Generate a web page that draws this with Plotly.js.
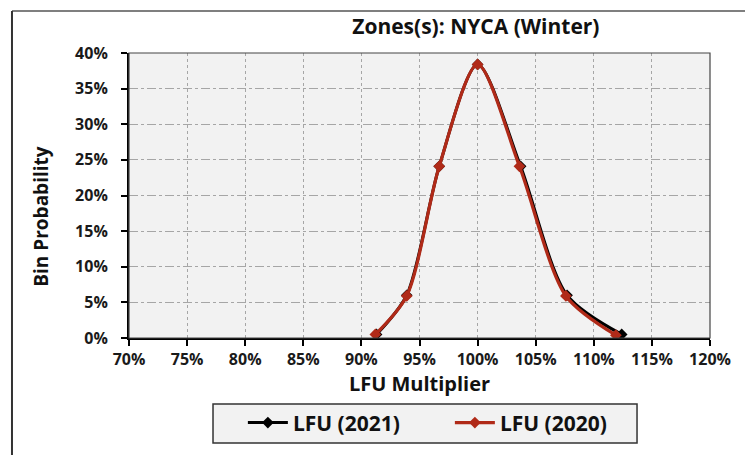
<!DOCTYPE html>
<html>
<head>
<meta charset="utf-8">
<script src="https://cdn.plot.ly/plotly-3.0.1.min.js"></script>
<style>html,body{margin:0;padding:0;background:#fff}#chart{width:745px;height:455px}</style>
</head>
<body>
<div id="chart"></div>
<script>
// LFU multiplier (x) and bin probability (y)
var x2021 = [0.913, 0.939, 0.967, 1.000, 1.037, 1.077, 1.124];
var y2021 = [0.005, 0.060, 0.241, 0.384, 0.241, 0.060, 0.005];
var x2020 = [0.912, 0.939, 0.967, 1.000, 1.036, 1.076, 1.119];
var y2020 = [0.005, 0.059, 0.241, 0.384, 0.241, 0.059, 0.004];
var seriesNames = ["LFU (2021)", "LFU (2020)"];
var chartTitle = "Zones(s): NYCA (Winter)";
var xTitle = "LFU Multiplier";
var yTitle = "Bin Probability";

var FONT = "'Open Sans', 'Noto Sans', sans-serif";

var traces = [
  {x: x2021, y: y2021, name: seriesNames[0], type: "scatter", mode: "lines+markers",
   line: {color: "#000000", width: 3, shape: "spline", smoothing: 0.8},
   marker: {symbol: "diamond", size: 9, color: "#000000"}},
  {x: x2020, y: y2020, name: seriesNames[1], type: "scatter", mode: "lines+markers",
   line: {color: "#b02a18", width: 3.2, shape: "spline", smoothing: 0.8},
   marker: {symbol: "diamond", size: 9, color: "#b02a18"}}
];

var tickFont = {family: FONT, size: 16, color: "#1a1a1a", weight: "bold"};

var layout = {
  width: 745, height: 455,
  margin: {l: 129, r: 35, t: 53, b: 117},
  paper_bgcolor: "#ffffff",
  plot_bgcolor: "#f2f2f2",
  showlegend: true,
  title: {text: "<b>" + chartTitle + "</b>", font: {family: FONT, size: 21, color: "#111"},
          x: 0.597, xref: "paper", xanchor: "center", y: 1.067, yref: "paper", yanchor: "middle"},
  xaxis: {range: [0.7, 1.2], dtick: 0.05, tick0: 0.7, tickformat: ".0%",
          showgrid: true, gridcolor: "#a6a6a6", griddash: "dot", gridwidth: 1,
          showline: true, linecolor: "#000", linewidth: 2,
          ticks: "outside", ticklen: 6, tickwidth: 2, tickcolor: "#000",
          tickfont: tickFont, zeroline: false, fixedrange: true,
          title: {text: "<b>" + xTitle + "</b>", font: {family: FONT, size: 20, color: "#111"}, standoff: 8}},
  yaxis: {range: [0, 0.4], dtick: 0.05, tick0: 0, tickformat: ".0%",
          showgrid: true, gridcolor: "#a6a6a6", griddash: "dashdot", gridwidth: 1,
          showline: true, linecolor: "#000", linewidth: 2,
          ticks: "outside", ticklen: 6, tickwidth: 2, tickcolor: "#000",
          ticklabelstandoff: 10,
          tickfont: tickFont, zeroline: false, fixedrange: true},
  xaxis2: {overlaying: "x", anchor: "y", side: "bottom", range: [0.7, 1.2], dtick: 0.05, tick0: 0.7,
           showticklabels: false, showgrid: false, zeroline: false, showline: false,
           ticks: "inside", ticklen: 6, tickwidth: 2, tickcolor: "#000", fixedrange: true},
  yaxis2: {overlaying: "y", anchor: "x", side: "left", range: [0, 0.4], dtick: 0.05, tick0: 0,
           showticklabels: false, showgrid: false, zeroline: false, showline: false,
           ticks: "inside", ticklen: 6, tickwidth: 2, tickcolor: "#000", fixedrange: true},
  legend: {orientation: "h", x: 0.196, xanchor: "left", y: -0.226, yanchor: "top",
           bgcolor: "rgba(0,0,0,0)", borderwidth: 0,
           font: {family: FONT, size: 21, color: "#111", weight: "bold"},
           itemwidth: 40, entrywidth: 152, traceorder: "normal"},
  annotations: [
    {text: "<b>" + yTitle + "</b>", xref: "paper", yref: "paper", x: -0.153, y: 0.426,
     xanchor: "center", yanchor: "middle", textangle: -90, showarrow: false,
     font: {family: FONT, size: 19, color: "#111"}}
  ],
  shapes: [
    {type: "rect", xref: "paper", yref: "paper", x0: 0, x1: 1, y0: 0, y1: 1,
     line: {color: "#444", width: 1.2}, fillcolor: "rgba(0,0,0,0)", layer: "above"},
    {type: "rect", xref: "paper", yref: "paper", x0: 0.1446, x1: 0.8744, y0: -0.3684, y1: -0.2316,
     line: {color: "#333", width: 1.5}, fillcolor: "#f2f2f2", layer: "below"},
    {type: "line", xref: "paper", yref: "paper", x0: -0.2014, x1: 1.07, y0: 1.147, y1: 1.147,
     line: {color: "#555", width: 1.5}},
    {type: "line", xref: "paper", yref: "paper", x0: -0.2014, x1: -0.2014, y0: 1.147, y1: -0.42,
     line: {color: "#333", width: 2}}
  ]
};

Plotly.newPlot("chart", traces, layout, {staticPlot: true, displayModeBar: false});
</script>
</body>
</html>
